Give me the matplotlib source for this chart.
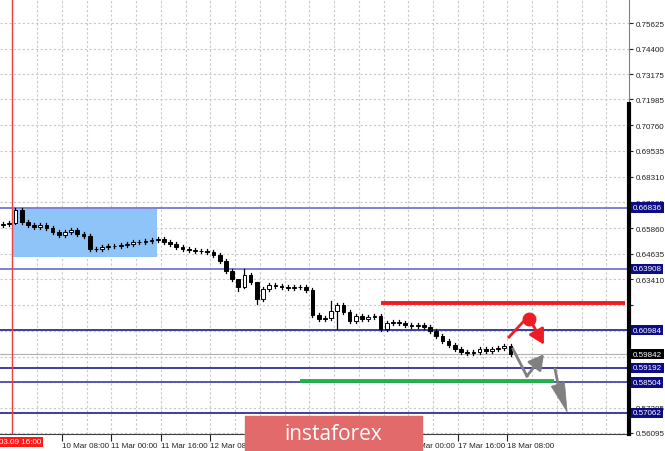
import matplotlib
matplotlib.use("Agg")
import matplotlib.pyplot as plt
from matplotlib.patches import Rectangle

# ---- data (x in hourly bars, y in price) ----
closes = [0.66051, 0.66098, 0.66718, 0.66146, 0.66003, 0.65908, 0.66003, 0.65860,
          0.65669, 0.65527, 0.65669, 0.65765, 0.65574, 0.65479, 0.64860, 0.64860,
          0.64955, 0.65002, 0.65002, 0.65050, 0.65098, 0.65193, 0.65193, 0.65241,
          0.65288, 0.65336, 0.65193, 0.65098, 0.64955, 0.64860, 0.64812, 0.64764,
          0.64764, 0.64717, 0.64574, 0.64288, 0.63811, 0.63430, 0.63049, 0.63621,
          0.63287, 0.62478, 0.62954, 0.63145, 0.63097, 0.63049, 0.63002, 0.63049,
          0.63049, 0.62906, 0.61715, 0.61525, 0.61572, 0.61906, 0.62192, 0.61858,
          0.61429, 0.61668, 0.61525, 0.61620, 0.61668, 0.61048, 0.61334, 0.61382,
          0.61334, 0.61239, 0.61191, 0.61239, 0.61144, 0.60953, 0.60715, 0.60477,
          0.60286, 0.60096, 0.59953, 0.59905, 0.59953, 0.60096, 0.60000, 0.60096,
          0.60143, 0.60238, 0.59842]
first_open = 0.66003
long_wicks = {2: (0.66813, 0.66050), 38: (0.63150, 0.62859), 39: (0.63907, 0.62990),
              41: (0.63300, 0.62240), 53: (0.62383, 0.61500), 54: (0.62290, 0.61048)}

y_ticks = [0.75625, 0.74400, 0.73175, 0.71985, 0.70760, 0.69535, 0.68310, 0.67085,
           0.65860, 0.64635, 0.63410, 0.62185, 0.60960, 0.59735, 0.58510, 0.57285, 0.56095]
hidden_ticks = [0.62185, 0.60960, 0.59735, 0.58510]
x_tick_bars = [20, 36, 52, 68, 84, 100, 116, 132, 148, 164]
x_tick_labels = ["10 Mar 08:00", "11 Mar 00:00", "11 Mar 16:00", "12 Mar 08:00",
                 "13 Mar 00:00", "13 Mar 16:00", "16 Mar 08:00", "17 Mar 00:00",
                 "17 Mar 16:00", "18 Mar 08:00"]

levels = [0.66836, 0.63908, 0.60984, 0.59192, 0.58504, 0.57062]
level_colors = ["#6a6ad0", "#6a6ad0", "#1c1c8c", "#1c1c8c", "#3c3ca8", "#1c1c8c"]
current_price = 0.59842
red_level = 0.62299
green_level = 0.58563

box_bars = [3.9, 50.7]
box_prices = [0.64478, 0.66765]

red_stroke_x = [164.5, 169.0]
red_stroke_y = [0.60662, 0.61377]
red_dot = (171.0, 0.61520)
red_arrow = [(172.3, 0.61234), (175.8, 0.60300)]
gray_path_x = [165.8, 170.3]
gray_path_y = [0.60090, 0.58802]
gray_arrow = [(170.3, 0.58802), (175.8, 0.59850)]
gray2_x = [179.4, 180.3]
gray2_y = [0.59136, 0.58468]
gray_drop = [(180.3, 0.58420), (183.3, 0.57100)]

plt.rcParams["font.family"] = ["Liberation Sans", "DejaVu Sans"]

fig = plt.figure(figsize=(6.65, 4.52), dpi=100)
ax = fig.add_axes([0, 17 / 452, 629 / 665, 435 / 452])
ax.set_xlim(0, 203.3)
ax.set_ylim(0.56046, 0.76770)

# grid
for b in range(4, 204, 8):
    ax.axvline(b, color="#c8c8c8", lw=0.8, ls=(0, (2, 2)), zorder=0)
for v in y_ticks:
    ax.axhline(v, color="#c8c8c8", lw=0.8, ls=(0, (2, 2)), zorder=0)

# highlighted range
ax.add_patch(Rectangle((box_bars[0], box_prices[0]), box_bars[1] - box_bars[0],
                       box_prices[1] - box_prices[0], color="#8fc4f8", zorder=1, lw=0))

# levels
for v, c in zip(levels, level_colors):
    ax.axhline(v, color=c, lw=1.2, zorder=2)
ax.axhline(current_price, color="#b0b0b0", lw=0.8, zorder=2)
ax.axvline(4, color="#f04040", lw=1, zorder=2)
ax.plot([123, 202], [red_level, red_level], color="#ee1c24", lw=2.8, zorder=3, solid_capstyle="butt")
ax.plot([97, 179], [green_level, green_level], color="#22b14c", lw=2.8, zorder=3, solid_capstyle="butt")

# candles
prev = first_open
for k, c in enumerate(closes):
    x = 2 * k + 1
    o = prev
    hi, lo = long_wicks.get(k, (max(o, c) + 0.0008, min(o, c) - 0.0008))
    ax.plot([x, x], [lo, hi], color="black", lw=0.9, zorder=4)
    body = max(abs(c - o), 0.0002)
    up = c > o
    ax.add_patch(Rectangle((x - 0.6, min(o, c)), 1.2, body,
                           facecolor="white" if up else "black", edgecolor="black",
                           lw=0.7, zorder=5))
    prev = c

# forecast arrows
ax.plot(red_stroke_x, red_stroke_y, color="#ee1c24", lw=2, zorder=6)
ax.plot([red_dot[0]], [red_dot[1]], marker="o", markersize=9, color="#ee1c24", zorder=6)
ax.annotate("", xy=red_arrow[1], xytext=red_arrow[0],
            arrowprops=dict(arrowstyle="-|>,head_length=0.9,head_width=0.5", color="#ee1c24",
                            lw=2, shrinkA=0, shrinkB=0),
            zorder=6)
ax.plot(gray_path_x, gray_path_y, color="#808080", lw=2, zorder=6)
ax.annotate("", xy=gray_arrow[1], xytext=gray_arrow[0],
            arrowprops=dict(arrowstyle="-|>,head_length=0.9,head_width=0.5", color="#808080",
                            lw=2, shrinkA=0, shrinkB=0),
            zorder=6)
ax.plot(gray2_x, gray2_y, color="#808080", lw=2, zorder=6)
ax.annotate("", xy=gray_drop[1], xytext=gray_drop[0],
            arrowprops=dict(arrowstyle="wedge,tail_width=1.0,shrink_factor=0.5", color="#808080",
                            lw=0.5, shrinkA=0, shrinkB=0),
            zorder=6)

# axes
for s in ["left", "top"]:
    ax.spines[s].set_visible(False)
ax.spines["right"].set_color("#808080")
ax.spines["right"].set_linewidth(0.8)
ax.spines["bottom"].set_color("#404040")
ax.plot([1, 1], [0, 1 - 105 / 435], transform=ax.transAxes, color="black", lw=3,
        clip_on=False, zorder=7)

ax.yaxis.tick_right()
ax.set_yticks(y_ticks)
ax.set_yticklabels(["" if v in hidden_ticks else f"{v:.5f}" for v in y_ticks])
ax.tick_params(axis="y", length=3, width=0.8, labelsize=5.8, pad=2, colors="#202020")
ax.set_xticks(x_tick_bars)
ax.set_xticklabels(x_tick_labels, ha="left")
ax.tick_params(axis="x", length=5, width=0.8, labelsize=5.8, pad=1, colors="#202020")

# boxed price labels on the right
for v in levels:
    ax.text(1.006, v, f"{v:.5f}", transform=ax.get_yaxis_transform(), fontsize=5.8,
            color="white", va="center", ha="left", zorder=8,
            bbox=dict(boxstyle="square,pad=0.2", fc="#0c0c84", ec="none"))
ax.text(1.006, current_price, f"{current_price:.5f}", transform=ax.get_yaxis_transform(),
        fontsize=5.8, color="white", va="center", ha="left", zorder=8,
        bbox=dict(boxstyle="square,pad=0.2", fc="black", ec="none"))

# time cursor label
fig.text(41 / 665, 1 - 443 / 452, "2020.03.09 16:00", fontsize=5.8, color="white",
         ha="right", va="center",
         bbox=dict(boxstyle="square,pad=0.2", fc="#ff1a1a", ec="none"))

# watermark
fig.patches.append(Rectangle((245 / 665, 0), 177 / 665, 35 / 452, transform=fig.transFigure,
                             color="#e26a6a", zorder=10))
fig.text(333 / 665, 17 / 452, "instaforex", fontsize=15, color="white", ha="center",
         va="center", family=["Open Sans", "DejaVu Sans"], zorder=11)

fig.savefig("out.png", dpi=100)
